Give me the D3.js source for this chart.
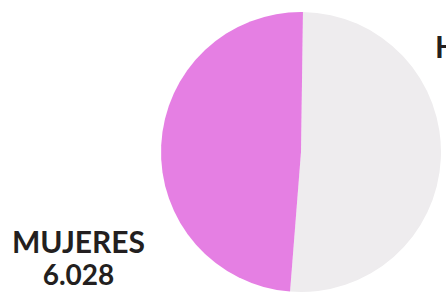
<!DOCTYPE html>
<html>
<head>
<meta charset="utf-8">
<script src="https://cdn.jsdelivr.net/npm/d3@7"></script>
<style>
  body { margin: 0; background: #fff; }
  text { font-family: Lato, "Open Sans", sans-serif; font-weight: 700; fill: #231f20; }
</style>
</head>
<body>
<div id="chart"></div>
<script>
// data
const categories = ["HOMBRES", "MUJERES"];
const values = [6280, 6028];
const valueLabels = ["6.280", "6.028"];
const colors = ["#eeecee", "#e57fe3"];

const WIDTH = 446, HEIGHT = 293;
const CX = 301, CY = 152, R = 140;

const svg = d3.select("#chart").append("svg")
    .attr("width", WIDTH)
    .attr("height", HEIGHT);

const data = categories.map((c, i) => ({ name: c, value: values[i], label: valueLabels[i], color: colors[i] }));

// pie starts just right of 12 o'clock, hombres clockwise first
const startA = 0.8 * Math.PI / 180;
const pie = d3.pie().sort(null).value(d => d.value)
    .startAngle(startA).endAngle(startA + 2 * Math.PI);
const arc = d3.arc().innerRadius(0).outerRadius(R);

const g = svg.append("g").attr("transform", "translate(" + CX + "," + CY + ")");
g.selectAll("path")
    .data(pie(data))
    .join("path")
    .attr("d", arc)
    .attr("fill", d => d.data.color);

// labels
const labelPos = {
    HOMBRES: { x: 435, y: 58, anchor: "start" },
    MUJERES: { x: 78.5, y: 253, anchor: "middle" }
};

data.forEach(d => {
    const p = labelPos[d.name];
    svg.append("text")
        .attr("x", p.x)
        .attr("y", p.y)
        .attr("text-anchor", p.anchor)
        .style("font-size", "30px")
        .text(d.name);
    const vx = p.anchor === "start" ? p.x + 66 : p.x;
    svg.append("text")
        .attr("x", vx)
        .attr("y", p.y + 32)
        .attr("text-anchor", "middle")
        .style("font-size", "28px")
        .text(d.label);
});
</script>
</body>
</html>
